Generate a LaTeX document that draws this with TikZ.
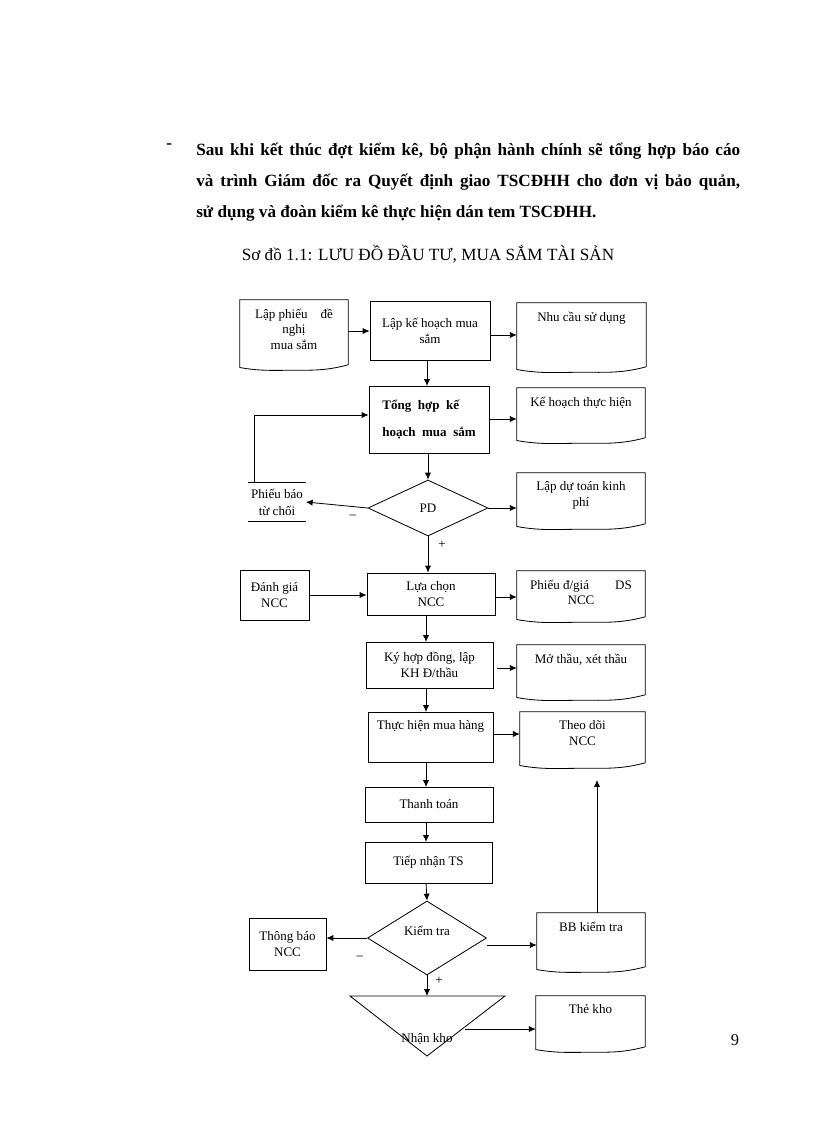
\documentclass[tikz,border=0pt]{standalone}
\usepackage{fontspec}
\setmainfont{Liberation Serif}
\usetikzlibrary{shapes.geometric,arrows.meta,calc}
\newcommand{\bx}[7]{\node[#6,minimum width={(#4-#2)*0.7292pt},minimum height={(#5-#3)*0.7292pt}] (#1) at ({(#2+#4)/2},{(#3+#5)/2}) {#7};}
\newcommand{\dc}[6]{\node[docb,minimum width={(#4-#2)*0.7292pt},minimum height={(#5-#3)*0.7292pt},label={[lbl]north:#6}] (#1) at ({(#2+#4)/2},{(#3+#5)/2}) {};
\draw[ln] ([yshift=4pt]#1.south east) -- (#1.north east) -- (#1.north west) -- ([yshift=2pt]#1.south west) to[out=-10,in=180] (#1.south) to[out=0,in=195] ([yshift=4pt]#1.south east);}
\begin{document}
\begin{tikzpicture}[x=0.7292pt,y=-0.7292pt,
  ln/.style={line width=0.6pt},
  box/.style={draw,ln,inner sep=1pt,align=center,font=\fontsize{9.5}{11.5}\selectfont},
  docb/.style={inner sep=0pt},
  lbl/.style={anchor=north,yshift=-3pt,align=center,font=\fontsize{9.5}{11.5}\selectfont},
  dia/.style={draw,ln,diamond,inner sep=0pt,font=\fontsize{9.5}{11.5}\selectfont},
  ar/.style={ln,-{Latex[length=5pt,width=4.5pt]}},
  sg/.style={font=\fontsize{9.5}{11}\selectfont}]
\useasboundingbox (0,0) rectangle (816,1123);
% top text
\node[anchor=north west,font=\fontsize{12.5}{16}\selectfont\bfseries,inner sep=0pt] (dash) at (166,143) {-};
\node[anchor=north west,inner sep=0pt,text width={544*0.7292pt},align=justify,font=\fontsize{12.5}{22.6}\selectfont\bfseries] (para) at (196,143) {Sau khi kết thúc đợt kiểm kê, bộ phận hành chính sẽ tổng hợp báo cáo\linebreak và trình Giám đốc ra Quyết định giao TSCĐHH cho đơn vị bảo quản,\linebreak sử dụng và đoàn kiểm kê thực hiện dán tem TSCĐHH.};
\node[font=\fontsize{12.5}{15}\selectfont] (title) at (428,254) {Sơ đồ 1.1: LƯU ĐỒ ĐẦU TƯ, MUA SẮM TÀI SẢN};
% docs
\dc{lp}{240}{300}{348}{370}{Lập phiếu\quad đề\\nghị\\mua sắm}
\dc{nc}{517}{303}{646}{372}{Nhu cầu sử dụng}
\dc{kh}{517}{388}{645}{443}{Kế hoạch thực hiện}
\dc{ldt}{517}{473}{645}{529}{Lập dự toán kinh\\phí}
\dc{ph}{517}{571}{645}{622}{Phiếu đ/giá\qquad DS\\NCC}
\dc{mt}{517}{645}{645}{700}{Mở thầu, xét thầu}
\dc{td}{520}{712}{645}{768}{Theo dõi\\NCC}
\dc{bb}{537}{913}{645}{972}{BB kiểm tra}
\dc{tk}{536}{996}{645}{1052}{Thẻ kho}
% boxes
\bx{lk}{370}{301}{490}{360}{box}{Lập kế hoạch mua\\sắm}
\bx{th}{369}{386}{489}{453}{box,align=left,font=\fontsize{9.5}{20}\selectfont\bfseries}{Tổng\ \ hợp\ \ kế\\hoạch\ \ mua\ \ sắm}
\bx{dg}{240}{570}{309}{620}{box}{Đánh giá\\NCC}
\bx{lc}{367}{573}{495}{615}{box}{Lựa chọn\\NCC}
\bx{ky}{366}{642}{493}{688}{box}{Ký hợp đồng, lập\\KH Đ/thầu}
\node[draw,ln,inner sep=0pt,minimum width={125*0.7292pt},minimum height={50*0.7292pt},label={[lbl]north:Thực hiện mua hàng}] (mh) at (430.5,737) {};
\bx{tt}{365}{787}{493}{822}{box}{Thanh toán}
\bx{tn}{365}{842}{492}{883}{box}{Tiếp nhận TS}
\bx{tb}{249}{918}{326}{970}{box}{Thông báo\\NCC}
\node[dia,minimum width={120*0.7292pt},minimum height={56*0.7292pt}] (pd) at (428,508) {PD};
\node[dia,minimum width={119*0.7292pt},minimum height={74*0.7292pt}] (kt) at (427,938) {\raisebox{10pt}{Kiểm tra}};
\node[inner sep=0pt,minimum width={57*0.7292pt},minimum height={38*0.7292pt},align=center,font=\fontsize{9.5}{12.5}\selectfont] (tc) at (277,502) {Phiếu báo\\từ chối};
\draw[ln] (tc.north west) -- (tc.north east) (tc.south west) -- (tc.south east);
% triangle
\coordinate (t1) at (350,996); \coordinate (t2) at (505,996); \coordinate (t3) at (427,1056);
\draw[ln] (t1) -- (t2) -- (t3) -- cycle;
\node[font=\fontsize{9.5}{11}\selectfont] (nk) at (427,1039) {Nhận kho};
\coordinate (tt1) at (427,996);
\coordinate (tr) at (465,1029);
\coordinate (tcl) at (254,415);
% connectors
\draw[ar] (lp.east |- 0,331) -- (lk.west |- 0,331);
\draw[ar] (lk.east |- 0,335) -- (nc.west |- 0,335);
\draw[ar] (427,360) -- (427,386);
\draw[ar] (th.east |- 0,419) -- (kh.west |- 0,419);
\draw[ar] (th.south -| pd.north) -- (pd.north);
\draw[ar] (pd.east) -- (ldt.west |- pd.east);
\draw[ar] (pd.west) -- (tc.east);
\draw[ar] (tc.north -| tcl) -- (tcl) -- (th.west |- tcl);
\draw[ar] (pd.south) -- (pd.south |- lc.north);
\draw[ar] (dg.east) -- (lc.west |- dg.east);
\draw[ar] (lc.east |- 0,597) -- (ph.west |- 0,597);
\draw[ar] (426,615) -- (426,642);
\draw[ar] (497,668) -- (mt.west |- 0,668);
\draw[ar] (426,688) -- (426,712);
\draw[ar] (mh.east |- 0,734) -- (td.west |- 0,734);
\draw[ar] (426,762) -- (426,787);
\draw[ar] (426,822) -- (426,842);
\draw[ar] (426,883) -- (kt.north);
\draw[ar] (kt.west) -- (tb.east |- kt.west);
\draw[ar] (487,945) -- (bb.west |- 0,945);
\draw[ar] (bb.north -| 597,0) -- (597,780);
\draw[ar] (kt.south) -- (tt1);
\draw[ar] (tr) -- (tk.west |- tr);
% signs
\node[sg] (m1) at (353,517) {--};
\node[sg] (p1) at (442,545) {+};
\node[sg] (m2) at (360,958) {--};
\node[sg] (p2) at (439,981) {+};
\node[font=\fontsize{12}{14}\selectfont] (pg) at (735,1040) {9};
\end{tikzpicture}
\end{document}
